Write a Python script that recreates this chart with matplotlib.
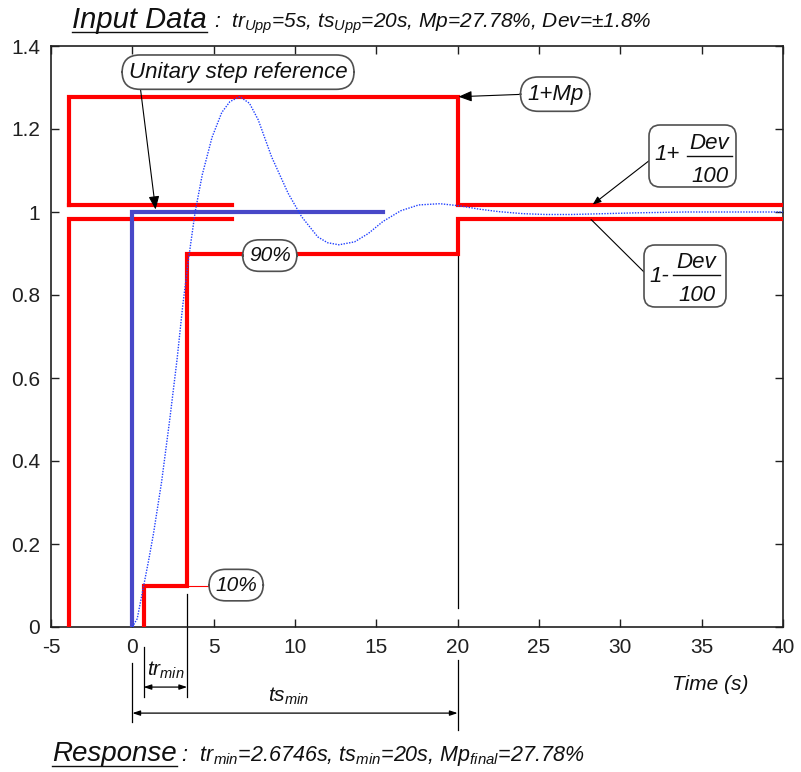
import matplotlib
matplotlib.use("Agg")
import matplotlib.pyplot as plt
from matplotlib.lines import Line2D
from matplotlib.patches import FancyBboxPatch
from matplotlib.transforms import Affine2D

plt.rcParams['font.family'] = ['Liberation Sans', 'DejaVu Sans']
plt.rcParams['mathtext.fontset'] = 'custom'
plt.rcParams['mathtext.rm'] = 'Liberation Sans:italic'
plt.rcParams['mathtext.it'] = 'Liberation Sans:italic'
plt.rcParams['mathtext.sf'] = 'Liberation Sans:italic'

# ---------------- data ----------------
x_ticks = [-5, 0, 5, 10, 15, 20, 25, 30, 35, 40]
y_ticks = [0, 0.2, 0.4, 0.6, 0.8, 1.0, 1.2, 1.4]
y_tick_labels = ['0', '0.2', '0.4', '0.6', '0.8', '1', '1.2', '1.4']

# response
resp_t = [0.0, 0.3, 0.7, 1.0, 1.3, 1.8, 2.3, 2.75, 3.1, 3.45, 3.86, 4.3, 4.9,
          5.5, 6.0, 6.6, 7.2, 7.74, 8.56, 9.58, 10.4, 11.4, 12.0, 12.7, 13.66,
          14.5, 15.4, 16.5, 17.6, 18.9, 20.1, 21.3, 22.5, 24.0, 25.4, 27.0,
          29.0, 31.0, 34.0, 37.0, 40.0]
resp_y = [0.0, 0.02, 0.10, 0.16, 0.225, 0.35, 0.50, 0.645, 0.775, 0.885, 1.0,
          1.09, 1.18, 1.24, 1.266, 1.278, 1.262, 1.222, 1.133, 1.045, 0.989,
          0.940, 0.926, 0.921, 0.928, 0.948, 0.977, 1.003, 1.017, 1.020, 1.015,
          1.007, 1.001, 0.996, 0.994, 0.994, 0.996, 0.998, 1.0, 1.0, 1.0]

# unitary step reference
step_t = [0.0, 0.0, 15.4]
step_y = [0.0, 1.0, 1.0]

# specification bands
mp = 0.2778
dev = 0.018
t_left = -3.9
t_short = 6.1
ts_upp = 20
t_end = 40
t10 = 0.69
t90 = 3.37

upper_t = [t_left, t_left, ts_upp, ts_upp, t_end]
upper_y = [1 + dev, 1 + mp, 1 + mp, 1 + dev, 1 + dev]
upper_short_t = [t_left, t_short]
upper_short_y = [1 + dev, 1 + dev]
lower_left_t = [t_left, t_left, t_short]
lower_left_y = [0.0, 1 - dev, 1 - dev]
lower_step_t = [t10, t10, t90, t90, ts_upp, ts_upp, t_end]
lower_step_y = [0.0, 0.1, 0.1, 0.9, 0.9, 1 - dev, 1 - dev]

# ---------------- figure ----------------
W, H = 801, 772
fig = plt.figure(figsize=(W / 100, H / 100), dpi=100)
ax = fig.add_axes([51 / W, 1 - 627 / H, (783 - 51) / W, (627 - 46) / H])
ax.set_xlim(-5, 40)
ax.set_ylim(0, 1.4)
PX = Affine2D().scale(1, -1).translate(0, H)   # top-left pixel coordinates

RED = '#ff0000'
BLUE = '#4848c8'
ax.plot(upper_t, upper_y, color=RED, lw=3, solid_joinstyle='miter', zorder=3)
ax.plot(upper_short_t, upper_short_y, color=RED, lw=3, zorder=3)
ax.plot(lower_left_t, lower_left_y, color=RED, lw=3, solid_joinstyle='miter', zorder=3)
ax.plot(lower_step_t, lower_step_y, color=RED, lw=3, solid_joinstyle='miter', zorder=3)
ax.plot(step_t, step_y, color=BLUE, lw=3, solid_joinstyle='miter', zorder=4)
ax.plot(resp_t, resp_y, color='#2040ff', lw=1.0, ls=(0, (1, 1)), zorder=5)

ax.set_xticks(x_ticks)
ax.set_xticklabels([str(v) for v in x_ticks])
ax.set_yticks(y_ticks)
ax.set_yticklabels(y_tick_labels)
ax.tick_params(direction='in', length=6, width=1, top=True, right=True,
               labelsize=15, colors='#202020', pad=8)
for s in ax.spines.values():
    s.set_linewidth(1.2)
    s.set_color('#202020')

TXT = '#101010'
box = dict(boxstyle='round,pad=0.3,rounding_size=0.8', fc='white', ec='#505050', lw=1.2)
head = '-|>,head_length=0.5,head_width=0.2'

ax.annotate('Unitary step reference', xy=(1.43, 1.006), xytext=(6.5, 1.337),
            ha='center', va='center', fontsize=16, style='italic', color=TXT,
            bbox=box, zorder=10,
            arrowprops=dict(arrowstyle=head, color='black', lw=0.8,
                            relpos=(0.05, 0.0), shrinkA=0, shrinkB=0))
ax.annotate('1+Mp', xy=(20.05, 1 + mp), xytext=(26.0, 1.284),
            ha='center', va='center', fontsize=16, style='italic', color=TXT,
            bbox=box, zorder=10,
            arrowprops=dict(arrowstyle=head, color='black', lw=0.8,
                            relpos=(0.0, 0.5), shrinkA=0, shrinkB=0))


def frac_box(x0, y0, x1, y1, sign, sx, bar, num_base, den_base, sign_y):
    p = FancyBboxPatch((x0, y0), x1 - x0, y1 - y0,
                       boxstyle='round,pad=0,rounding_size=11', transform=PX,
                       fc='white', ec='#505050', lw=1.2, zorder=10)
    fig.add_artist(p)
    fig.text(sx, sign_y, sign, transform=PX, fontsize=16, style='italic',
             color=TXT, va='center', ha='left', zorder=11)
    cx = (bar[0] + bar[1]) / 2
    fig.text(cx, num_base, 'Dev', transform=PX, fontsize=16, style='italic',
             color=TXT, va='baseline', ha='center', zorder=11)
    fig.text(cx, den_base, '100', transform=PX, fontsize=16, style='italic',
             color=TXT, va='baseline', ha='center', zorder=11)
    fig.add_artist(Line2D([bar[0], bar[1]], [bar[2], bar[2]], transform=PX,
                          color=TXT, lw=1.0, zorder=11))


frac_box(649, 125, 736, 187, '1+', 654, (687, 732, 156), 149, 182, 154)
frac_box(644, 245, 726, 307, '1-', 649, (673, 720, 275), 268, 301, 277)

# arrows to the deviation bands
fig_inv = ax.transData
ax.annotate('', xy=(28.3, 1 + dev), xytext=(650, 160), textcoords=PX,
            arrowprops=dict(arrowstyle=head, color='black', lw=0.8,
                            shrinkA=0, shrinkB=0), zorder=9)
ax.annotate('', xy=(28.2, 1 - dev), xytext=(645, 273), textcoords=PX,
            arrowprops=dict(arrowstyle='-', color='black', lw=0.8,
                            shrinkA=0, shrinkB=0), zorder=9)

ax.text(8.45, 0.895, '90%', ha='center', va='center', fontsize=15, style='italic',
        color=TXT, bbox=box, zorder=10)
ax.plot([t90, 5.2], [0.1, 0.1], color=RED, lw=0.8, zorder=3)
ax.text(6.38, 0.101, '10%', ha='center', va='center', fontsize=15, style='italic',
        color=TXT, bbox=box, zorder=10)

# thin marker lines
ax.plot([ts_upp, ts_upp], [0.045, 0.9], color='black', lw=0.9, zorder=2)


def py2y(py):
    return (627 - py) / 414.5


kw = dict(color='black', lw=0.9, clip_on=False, zorder=2)
ax.plot([t90, t90], [0.08, py2y(697)], **kw)
ax.plot([t10, t10], [py2y(647), py2y(697)], **kw)
ax.plot([0, 0], [py2y(663), py2y(722)], **kw)
ax.plot([ts_upp, ts_upp], [py2y(660), py2y(730)], **kw)
arr = dict(arrowstyle='<|-|>,head_length=0.45,head_width=0.15', color='black', lw=0.9,
           shrinkA=0, shrinkB=0)
ax.annotate('', xy=(t10, py2y(687)), xytext=(t90, py2y(687)), arrowprops=arr,
            annotation_clip=False)
ax.annotate('', xy=(0, py2y(713)), xytext=(ts_upp, py2y(713)), arrowprops=arr,
            annotation_clip=False)
ax.text((t10 + t90) / 2, py2y(676), r'$tr_{min}$', ha='center', va='baseline',
        fontsize=15, color=TXT, clip_on=False)
ax.text(9.6, py2y(702), r'$ts_{min}$', ha='center', va='baseline',
        fontsize=15, color=TXT, clip_on=False)
ax.text(35.5, py2y(690), 'Time (s)', ha='center', va='baseline', fontsize=15,
        style='italic', color=TXT, clip_on=False)

# header / footer
t1 = fig.text(72 / W, 1 - 28 / H, 'Input Data', fontsize=21, style='italic',
              color=TXT, va='baseline')
fig.text(214 / W, 1 - 28 / H,
         r':  $tr_{Upp}$=5s, $ts_{Upp}$=20s, Mp=27.78%, Dev=±1.8%',
         fontsize=15, style='italic', color=TXT, va='baseline')
t2 = fig.text(52 / W, 1 - 761 / H, 'Response', fontsize=20, style='italic',
              color=TXT, va='baseline')
fig.text(176 / W, 1 - 761 / H,
         r' :  $tr_{min}$=2.6746s, $ts_{min}$=20s, $Mp_{final}$=27.78%',
         fontsize=15.5, style='italic', color=TXT, va='baseline')

fig.canvas.draw()
r = fig.canvas.get_renderer()
for t, ypx in ((t1, 32), (t2, 766)):
    bb = t.get_window_extent(r)
    fig.add_artist(Line2D([bb.x0 / W, bb.x1 / W], [1 - ypx / H, 1 - ypx / H],
                          color=TXT, lw=1.0, transform=fig.transFigure))

fig.savefig('out.png', dpi=100)
